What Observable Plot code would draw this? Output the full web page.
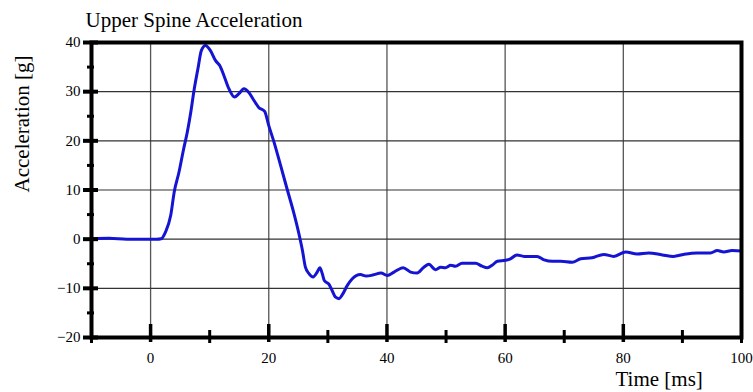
<!DOCTYPE html>
<html>
<head>
<meta charset="utf-8">
<script src="https://cdn.jsdelivr.net/npm/d3@7"></script>
<script src="https://cdn.jsdelivr.net/npm/@observablehq/plot@0.6"></script>
<style>
  html, body { margin: 0; padding: 0; background: #fff; }
  svg { display: block; }
</style>
</head>
<body>
<div id="chart"></div>
<script>
const titleText = ["Upper Spine Acceleration"];
const yLabelText = ["Acceleration [g]"];
const xLabelText = ["Time [ms]"];

const timeMs = [-10, -7, -4, -1, 1, 1.8, 2.5, 3.4, 4.0, 4.8, 5.6, 6.2, 6.8, 7.3, 8.0, 8.6, 9.3, 10.1, 11.0, 11.7,
  12.4, 13.25, 14.2, 14.95, 15.8, 16.6, 17.5, 18.3, 19.3, 20.0, 20.9, 22.0, 23.1, 24.2, 25.1, 25.7, 26.2, 26.8, 27.5, 28.2,
  28.65, 29.05, 29.4, 30.2, 30.7, 31.3, 31.9, 32.4, 33.3, 34.1, 35.5, 36.5, 37.6, 39.0, 40.05, 41.2, 42.75, 44.0, 45.1, 46.25,
  47.1, 48.2, 49.1, 49.9, 50.8, 51.6, 52.7, 55.0, 56.1, 57.0, 57.8, 58.7, 60.1, 60.9, 62.0, 63.2, 65.4, 66.6, 68.0, 69.4,
  71.35, 72.8, 74.7, 76.7, 78.4, 80.4, 82.35, 84.3, 86.6, 88.5, 90.2, 92.5, 94.75, 95.9, 97.0, 98.4, 100];
const accelG = [0.1, 0.2, 0, 0, 0, 0.1, 1.4, 4.8, 9.6, 13.6, 18.4, 21.7, 25.8, 29.9, 34.6, 38.4, 39.4, 38.4, 36.3, 35.3,
  33.3, 30.6, 28.9, 29.6, 30.6, 29.9, 28.2, 26.8, 26.0, 23.1, 19.7, 15.0, 10.2, 5.5, 1.1, -2.3, -5.7, -7.0, -7.7, -6.7,
  -5.8, -7.0, -8.4, -9.2, -10.4, -11.8, -12.1, -11.4, -9.4, -8.1, -7.2, -7.5, -7.3, -6.9, -7.4, -6.7, -5.8, -6.7, -6.9, -5.7,
  -5.1, -6.2, -5.7, -5.8, -5.3, -5.5, -4.9, -4.9, -5.5, -5.8, -5.3, -4.5, -4.3, -4.0, -3.2, -3.5, -3.5, -4.2, -4.5, -4.5,
  -4.7, -4.0, -3.8, -3.1, -3.5, -2.6, -3.0, -2.8, -3.2, -3.5, -3.1, -2.8, -2.8, -2.3, -2.6, -2.3, -2.4];

const xTickLabels = [0, 20, 40, 60, 80, 100];
const yTickLabels = [-20, -10, 0, 10, 20, 30, 40];
const xGrid = [0, 20, 40, 60, 80];
const yGrid = [-10, 0, 10, 20, 30];
const xMajorTicks = [0, 20, 40, 60, 80];
const xMinorTicks = [10, 30, 50, 70, 90];
const xEndTicks = [-10, 100];
const yMajorTicks = [-20, -10, 0, 10, 20, 30, 40];
const yMinorTicks = [-15, -5, 5, 15, 25, 35];

const series = timeMs.map((t, i) => ({t, a: accelG[i]}));
const serif = "Liberation Serif, Times New Roman, serif";

const chart = Plot.plot({
  width: 753,
  height: 392,
  marginLeft: 91,
  marginRight: 12,
  marginTop: 42,
  marginBottom: 55,
  style: {fontFamily: serif, fontSize: "15px", background: "#fff", color: "#000"},
  x: {domain: [-10, 100]},
  y: {domain: [-20, 40]},
  marks: [
    Plot.ruleX(xGrid, {x: d => d, stroke: "#555", strokeWidth: 1.3}),
    Plot.ruleY(yGrid, {y: d => d, stroke: "#333", strokeWidth: 1.2}),
    Plot.line(series, {x: "t", y: "a", stroke: "#1414d2", strokeWidth: 3, curve: "monotone-x"}),
    Plot.frame({stroke: "#000", strokeWidth: 4}),
    Plot.ruleY(yMajorTicks, {y: d => d, x1: () => -10, x2: () => -10, insetLeft: -8, insetRight: -7, stroke: "#000", strokeWidth: 4}),
    Plot.ruleY(yMinorTicks, {y: d => d, x1: () => -10, x2: () => -10, insetLeft: -4, insetRight: -3, stroke: "#000", strokeWidth: 3}),
    Plot.ruleX(xMajorTicks, {x: d => d, y1: () => -20, y2: () => -20, insetTop: -13, insetBottom: -5, stroke: "#000", strokeWidth: 3.5}),
    Plot.ruleX(xMinorTicks, {x: d => d, y1: () => -20, y2: () => -20, insetTop: -7, insetBottom: -6, stroke: "#000", strokeWidth: 3}),
    Plot.ruleX(xEndTicks, {x: d => d, y1: () => -20, y2: () => -20, insetTop: 0, insetBottom: -6, stroke: "#000", strokeWidth: 3}),
    Plot.axisX(xTickLabels, {tickSize: 0, tickPadding: 15, label: null, fontSize: 15, fontFamily: serif, fill: "#000"}),
    Plot.axisY(yTickLabels, {tickSize: 0, tickPadding: 11, label: null, fontSize: 15, fontFamily: serif, fill: "#000"}),
    Plot.text(titleText, {text: d => d, frameAnchor: "top-left", textAnchor: "start", lineAnchor: "middle", dx: -6, dy: -22, fontSize: 21, fontFamily: serif, fill: "#000"}),
    Plot.text(yLabelText, {text: d => d, frameAnchor: "left", textAnchor: "middle", lineAnchor: "middle", rotate: -90, dx: -69, dy: -66, fontSize: 21, fontFamily: serif, fill: "#000"}),
    Plot.text(xLabelText, {text: d => d, frameAnchor: "bottom-right", textAnchor: "start", lineAnchor: "middle", dx: -126, dy: 42, fontSize: 21, fontFamily: serif, fill: "#000"})
  ]
});
document.getElementById("chart").appendChild(chart);
</script>
</body>
</html>
